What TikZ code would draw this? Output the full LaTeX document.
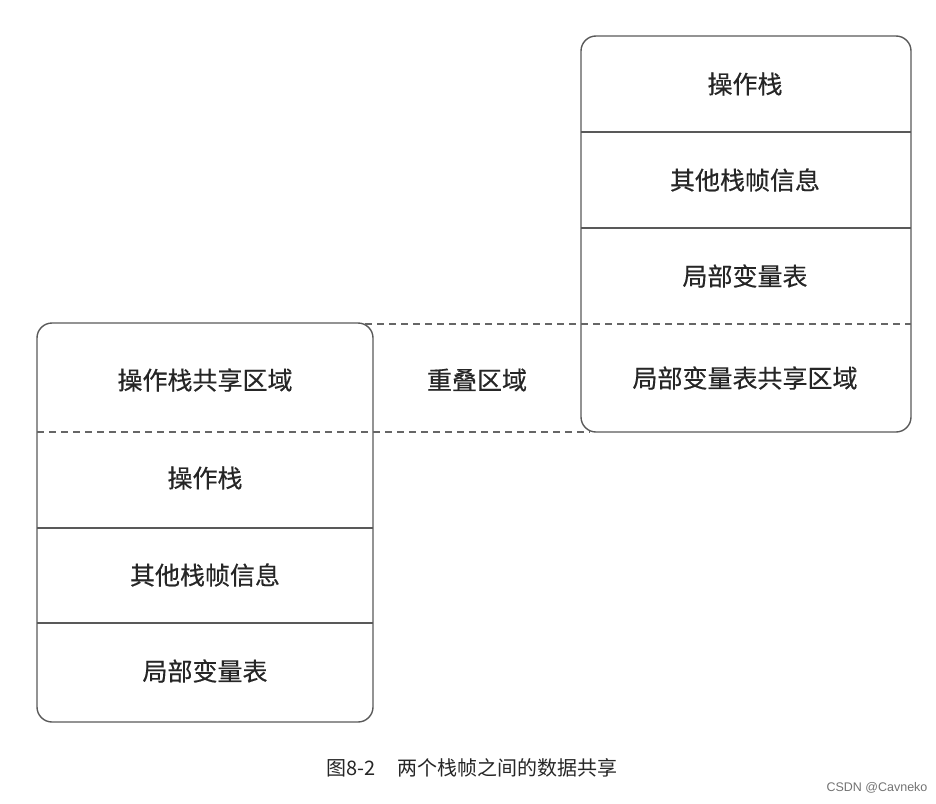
\documentclass[tikz,border=0pt]{standalone}
\usepackage{fontspec}
\newfontfamily\cjk[FakeBold=0.4]{Noto Sans CJK SC}
\newfontfamily\cjkcap{Noto Sans CJK SC}
\setsansfont{Liberation Sans}
\begin{document}
\begin{tikzpicture}[x=1pt,y=-1pt,
  frame/.style={draw=black!65,line width=1.4pt,rounded corners=15pt},
  divider/.style={draw=black!65,line width=1.4pt},
  dashdiv/.style={draw=black!60,line width=1.3pt,dash pattern=on 7pt off 5pt},
  lbl/.style={font=\cjk\fontsize{25}{28}\selectfont,text=black!85,inner sep=0pt},
  captext/.style={font=\cjkcap\fontsize{20}{24}\selectfont,text=black!85,inner sep=0pt},
  wm/.style={font=\sffamily\fontsize{12.5}{14}\selectfont,text=black!55,inner sep=0pt}]
\useasboundingbox (0,0) rectangle (936,803);
% right frame
\draw[frame] (581,36) rectangle (911,432);
\draw[divider] (581,132) -- (911,132);
\draw[divider] (581,228) -- (911,228);
% left frame
\draw[frame] (37,323) rectangle (373,722);
\draw[divider] (37,528) -- (373,528);
\draw[divider] (37,623) -- (373,623);
% dashed overlap lines
\coordinate (dA) at (365,324);
\coordinate (dB) at (911,324);
\coordinate (dC) at (37,432);
\coordinate (dD) at (590,432);
\draw[dashdiv] (dA) -- (dB);
\draw[dashdiv] (dC) -- (dD);
% right labels
\node[lbl] (r1) at (745,84) {操作栈};
\node[lbl] (r2) at (745,180) {其他栈帧信息};
\node[lbl] (r3) at (745,276) {局部变量表};
\node[lbl] (r4) at (745,378) {局部变量表共享区域};
% left labels
\node[lbl] (l1) at (205,380) {操作栈共享区域};
\node[lbl] (l2) at (205,478) {操作栈};
\node[lbl] (l3) at (205,575) {其他栈帧信息};
\node[lbl] (l4) at (205,671) {局部变量表};
% middle
\node[lbl] (mid) at (477,380) {重叠区域};
% caption
\node[captext] (caption) at (472,768) {图8-2\hspace{1.1em}两个栈帧之间的数据共享};
\node[wm] (mark) at (877,788) {CSDN @Cavneko};
\end{tikzpicture}
\end{document}
